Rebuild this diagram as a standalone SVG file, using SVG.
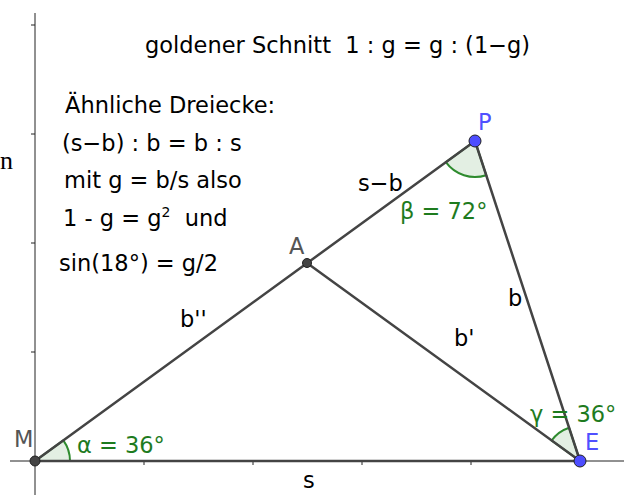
<svg xmlns="http://www.w3.org/2000/svg" width="624" height="495" viewBox="0 0 624 495">
<style>
text{font-family:"DejaVu Sans","Liberation Sans",sans-serif;font-size:22.5px;fill:#000;white-space:pre}
.g{fill:#1e7b1e}
.bl{fill:#5050ff}
.gr{fill:#555}
.ax{stroke:#222;stroke-width:1;fill:none}
.seg{stroke:#444;stroke-width:2.5;fill:none;stroke-linecap:round}
.ang{fill:#dcebdc;fill-opacity:0.8;stroke:#2e8b2e;stroke-width:2}
</style>
<rect width="624" height="495" fill="#fff"/>
<g id="axes">
<line class="ax" x1="35" y1="13" x2="35" y2="495"/>
<line class="ax" x1="10" y1="461" x2="624" y2="461"/>
<path class="ax" d="M31,25H35M31,134H35M31,243H35M31,352H35M144,461V465M253,461V465M362,461V465M471,461V465"/>
</g>
<text x="0" y="169" style="font-family:'Liberation Serif',serif;font-size:26px">n</text>
<g id="angles">
<path class="ang" d="M35,461 L70,461 A35,35 0 0 0 63.32,440.43 Z"/>
<path class="ang" d="M475,141 L445.88,162.18 A36,36 0 0 0 486.22,175.2 Z"/>
<path class="ang" d="M580,461 L551.62,440.52 A35,35 0 0 1 569.09,427.75 Z"/>
</g>
<g id="connectors">
<line class="seg" x1="35" y1="461" x2="475" y2="141"/>
<line class="seg" x1="475" y1="141" x2="580" y2="461"/>
<line class="seg" x1="307" y1="263" x2="580" y2="461"/>
<line class="seg" x1="35" y1="461" x2="580" y2="461"/>
</g>
<g id="M"><circle cx="35" cy="461" r="5" fill="#444" stroke="#222"/><text class="gr" x="14" y="447">M</text></g>
<g id="A"><circle cx="307" cy="263" r="4.5" fill="#444" stroke="#222"/><text class="gr" x="289" y="254">A</text></g>
<g id="P"><circle cx="475" cy="141" r="6" fill="#4d4dff" stroke="#222"/><text class="bl" x="478" y="130">P</text></g>
<g id="E"><circle cx="580" cy="461" r="6" fill="#4d4dff" stroke="#222"/><text class="bl" x="585" y="450">E</text></g>
<g id="labels">
<text x="145" y="53">goldener Schnitt  1 : g = g : (1−g)</text>
<text x="65" y="113">Ähnliche Dreiecke:</text>
<text x="62" y="151">(s−b) : b = b : s</text>
<text x="64" y="188">mit g = b/s also</text>
<text x="63" y="226">1 - g = g<tspan dy="-9" font-size="14">2</tspan><tspan dy="9">  und</tspan></text>
<text x="59" y="271">sin(18°) = g/2</text>
<text x="358" y="191">s−b</text>
<text class="g" x="400" y="219">β = 72°</text>
<text x="508" y="306">b</text>
<text x="180" y="327">b''</text>
<text x="454" y="346">b'</text>
<text class="g" x="530" y="422">γ = 36°</text>
<text class="g" x="77" y="453">α = 36°</text>
<text x="303" y="488">s</text>
</g>
</svg>
